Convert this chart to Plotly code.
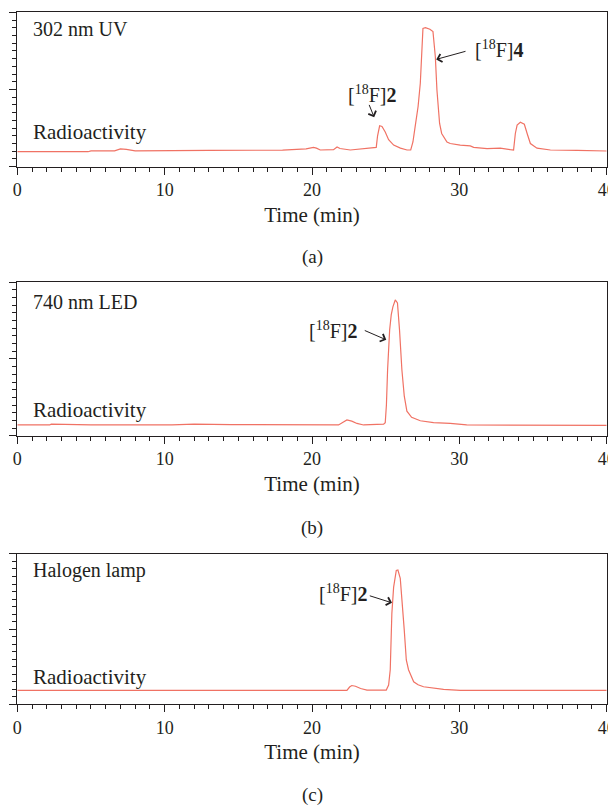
import plotly.graph_objects as go

# ---------------- data ----------------
time_a = [0, 4.8, 5.0, 6.6, 7.0, 7.4, 8.0, 10, 12.3, 12.6, 13, 18.0, 19.2, 19.6, 20.1, 20.3, 20.56,
          21.2, 21.46, 21.7, 21.9, 22.6, 23.2, 23.73, 24.2, 24.36, 24.45, 24.59, 24.75, 24.97, 25.2,
          25.54, 26.0, 26.45, 26.7, 26.85, 27.0, 27.2, 27.35, 27.46, 27.53, 27.7, 28.0, 28.21, 28.37,
          28.48, 28.66, 28.8, 29.16, 29.38, 30.06, 30.74, 30.97, 31.88, 32.78, 33.46, 33.68, 33.8,
          33.92, 34.14, 34.41, 34.6, 34.82, 35.27, 36.18, 38, 40]
value_a = [1.94, 1.94, 2.05, 2.05, 2.3, 2.25, 2.05, 2.05, 2.05, 2.1, 2.1, 2.15, 2.2, 2.3, 2.5, 2.4, 2.16,
           2.2, 2.2, 2.55, 2.35, 2.16, 2.25, 2.35, 2.4, 2.5, 4.0, 5.3, 5.2, 4.5, 3.5,
           2.8, 2.4, 2.16, 2.16, 3.2, 5.2, 7.8, 10.8, 15.9, 17.9, 18.0, 17.8, 17.5, 14.25,
           9.9, 5.6, 4.3, 3.2, 3.0, 2.8, 2.7, 2.5, 2.35, 2.4, 2.2, 2.16, 4.3,
           5.4, 5.75, 5.5, 4.3, 3.0, 2.4, 2.16, 2.1, 2.03]

time_b = [0, 2.2, 2.3, 3.9, 4.3, 5.0, 10.5, 12, 14.5, 20, 21.8, 22.05, 22.37, 22.7, 23.05, 23.5,
          24.86, 24.97, 25.05, 25.13, 25.27, 25.38, 25.49, 25.65, 25.8, 25.94, 26.1, 26.26, 26.44,
          26.76, 27.35, 28.25, 29.38, 30.5, 35, 40]
value_b = [1.4, 1.4, 1.5, 1.45, 1.5, 1.4, 1.4, 1.5, 1.45, 1.4, 1.4, 1.7, 2.05, 1.9, 1.6, 1.4,
           1.5, 1.7, 4.0, 8.6, 13.8, 15.8, 16.8, 17.7, 17.3, 13.8, 8.6, 5.2, 3.2,
           2.4, 1.95, 1.7, 1.6, 1.4, 1.4, 1.35]

time_c = [0, 10, 20, 22.37, 22.55, 22.7, 22.95, 23.3, 23.73, 24.5, 25.04, 25.2, 25.31, 25.42, 25.54,
          25.72, 25.83, 25.99, 26.1, 26.26, 26.4, 26.55, 26.9, 27.2, 27.57, 28.3, 28.93, 30.06, 40]
value_c = [1.86, 1.86, 1.86, 1.86, 2.3, 2.5, 2.4, 2.1, 1.9, 1.9, 1.9, 2.57, 4.6, 12.1, 15.6,
           17.8, 17.86, 16.75, 14.3, 9.9, 5.9, 4.6, 3.0, 2.6, 2.34, 2.15, 2.0, 1.86, 1.86]

panel_titles = ["302 nm UV", "740 nm LED", "Halogen lamp"]
panel_labels = ["(a)", "(b)", "(c)"]
x_tick_values = [0, 10, 20, 30, 40]
x_tick_text = ["0", "10", "20", "30", "40"]
x_title = "Time (min)"
trace_label = "Radioactivity"

# ---------------- styling ----------------
FONT = "Liberation Serif"
INK = "#231f20"
LINE = "#f07264"

# the page body has an 8px margin, so the figure is 8px smaller than the window
W, H = 608, 799
x_dom = [0.0153, 0.9847]
y_doms = [[0.8014, 0.9946], [0.4647, 0.6567], [0.1285, 0.3167]]
label_y = [0.6884, 0.3492, 0.0150]

fig = go.Figure()
series = [(time_a, value_a), (time_b, value_b), (time_c, value_c)]
for i, (t, v) in enumerate(series):
    sfx = "" if i == 0 else str(i + 1)
    fig.add_trace(go.Scatter(x=t, y=v, mode="lines", line=dict(color=LINE, width=1.2),
                             xaxis="x" + sfx, yaxis="y" + sfx, showlegend=False, hoverinfo="skip"))

layout = dict(width=W, height=H, margin=dict(l=0, r=0, t=0, b=0, autoexpand=False),
              paper_bgcolor="white", plot_bgcolor="white",
              font=dict(family=FONT, color=INK))
for i in range(3):
    sfx = "" if i == 0 else str(i + 1)
    layout["xaxis" + sfx] = dict(
        domain=x_dom, anchor="y" + sfx, range=[0, 40], showgrid=False, zeroline=False,
        automargin=False,
        showline=True, mirror=True, linecolor=INK, linewidth=1.2,
        tickmode="array", tickvals=x_tick_values, ticktext=x_tick_text,
        ticks="outside", ticklen=7, tickwidth=1.2, tickcolor=INK,
        minor=dict(dtick=1, ticks="outside", ticklen=4, tickwidth=1, tickcolor=INK, showgrid=False),
        tickfont=dict(family=FONT, size=18, color=INK),
        title=dict(text=x_title, font=dict(family=FONT, size=21, color=INK), standoff=7),
    )
    layout["yaxis" + sfx] = dict(
        domain=y_doms[i], anchor="x" + sfx, range=[0, 20], showgrid=False, zeroline=False,
        automargin=False,
        showline=True, mirror=True, linecolor=INK, linewidth=1.2,
        tick0=0, dtick=10, ticks="outside", ticklen=7, tickwidth=1.2, tickcolor=INK,
        showticklabels=False,
        minor=dict(dtick=1, ticks="outside", ticklen=4, tickwidth=1, tickcolor=INK, showgrid=False),
    )
fig.update_layout(**layout)

title_y = [17.8, 17.4, 17.86]
radio_y = [4.5, 3.35, 3.67]
for i in range(3):
    sfx = "" if i == 0 else str(i + 1)
    fig.add_annotation(x=0.91, y=title_y[i], xref="x" + sfx, yref="y" + sfx, text=panel_titles[i],
                       showarrow=False, xanchor="left", yanchor="middle",
                       font=dict(family=FONT, size=20, color=INK))
    fig.add_annotation(x=0.91, y=radio_y[i], xref="x" + sfx, yref="y" + sfx, text=trace_label,
                       showarrow=False, xanchor="left", yanchor="middle",
                       font=dict(family=FONT, size=21, color=INK))
    fig.add_annotation(x=0.5, y=label_y[i], xref="paper", yref="paper", text=panel_labels[i],
                       showarrow=False, xanchor="center", yanchor="middle",
                       font=dict(family=FONT, size=19, color=INK))

# peak labels: (axis suffix, text x, text y, arrow tail x, tail y, head x, head y, label)
peak_labels = [
    ("", 30.93, 15.3, 30.52, 15.0, 28.43, 13.9, "[<sup>18</sup>F]<b>4</b>"),
    ("", 24.07, 9.38, 23.84, 8.2, 24.22, 6.4, "[<sup>18</sup>F]<b>2</b>"),
    ("2", 21.44, 13.8, 23.48, 13.8, 25.04, 12.5, "[<sup>18</sup>F]<b>2</b>"),
    ("3", 22.08, 14.8, 23.82, 14.5, 25.43, 13.5, "[<sup>18</sup>F]<b>2</b>"),
]
for sfx, tx, ty, ax, ay, hx, hy, txt in peak_labels:
    anchor = "left" if txt.endswith("4</b>") else "center"
    fig.add_annotation(x=tx, y=ty, xref="x" + sfx, yref="y" + sfx, text=txt, showarrow=False,
                       xanchor=anchor, yanchor="middle", font=dict(family=FONT, size=20, color=INK))
    fig.add_annotation(x=hx, y=hy, ax=ax, ay=ay, xref="x" + sfx, yref="y" + sfx,
                       axref="x" + sfx, ayref="y" + sfx, text="", showarrow=True,
                       arrowhead=4, arrowsize=1.6, arrowwidth=1, arrowcolor=INK)

fig.write_html("out.html")
